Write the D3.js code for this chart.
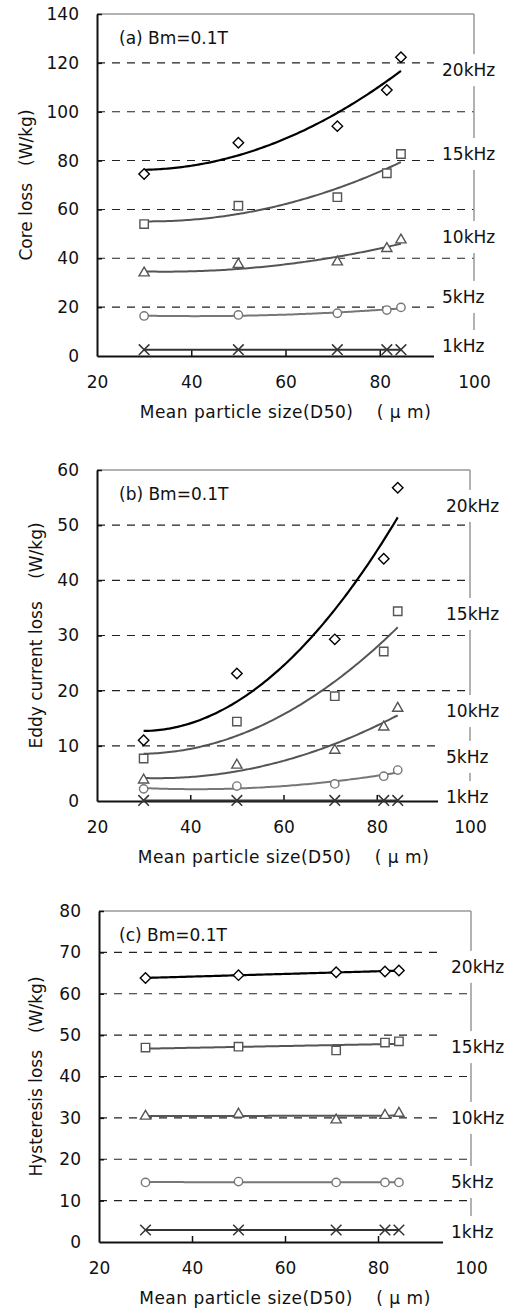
<!DOCTYPE html>
<html>
<head>
<meta charset="utf-8">
<script src="https://cdn.jsdelivr.net/npm/d3@7"></script>
<style>
  body { margin: 0; background: #fff; }
  svg { display: block; }
  text { font-family: "DejaVu Sans", "Noto Sans CJK JP", sans-serif; fill: #111; }
</style>
</head>
<body>
<div id="chart"></div>
<script>
// mean particle size D50 (um)
const sizes = [30, 50, 71, 81.5, 84.5];
const freqLabels = ["20kHz", "15kHz", "10kHz", "5kHz", "1kHz"];
const xTicks = [20, 40, 60, 80, 100];

// (a) core loss W/kg
const core20 = [74.5, 87.3, 94.1, 108.9, 122.3];
const core15 = [54.0, 61.5, 65.0, 74.8, 82.7];
const core10 = [34.0, 37.5, 38.5, 44.0, 47.5];
const core5 = [16.4, 16.8, 17.5, 18.8, 19.9];
const core1 = [2.6, 2.6, 2.6, 2.6, 2.6];
const coreTicks = [0, 20, 40, 60, 80, 100, 120, 140];

// (b) eddy current loss W/kg
const eddy20 = [11.0, 23.1, 29.3, 43.9, 56.8];
const eddy15 = [7.7, 14.4, 19.0, 27.1, 34.4];
const eddy10 = [3.8, 6.5, 9.2, 13.4, 16.8];
const eddy5 = [2.2, 2.7, 3.1, 4.5, 5.6];
const eddy1 = [0.1, 0.1, 0.1, 0.1, 0.1];
const eddyTicks = [0, 10, 20, 30, 40, 50, 60];

// (c) hysteresis loss W/kg
const hyst20 = [63.8, 64.5, 65.2, 65.4, 65.6];
const hyst15 = [47.0, 47.2, 46.3, 48.2, 48.5];
const hyst10 = [30.4, 30.9, 29.5, 30.6, 31.1];
const hyst5 = [14.4, 14.6, 14.4, 14.4, 14.4];
const hyst1 = [2.9, 2.9, 2.9, 2.9, 2.9];
const hystTicks = [0, 10, 20, 30, 40, 50, 60, 70, 80];

const W = 512, H = 1310;
const FS = 17;

const panels = [
  { tag: "(a) Bm=0.1T", title: "Core loss\u3000(W/kg)", series: [core20, core15, core10, core5, core1],
    ticks: coreTicks, order: 2, left: 97, right: 474, top: 14, bottom: 356, titleX: 26, labelX: 442,
    labelAt: [117, 82.7, 48.7, 24.2, 4.1] },
  { tag: "(b) Bm=0.1T", title: "Eddy current loss\u3000 (W/kg)", series: [eddy20, eddy15, eddy10, eddy5, eddy1],
    ticks: eddyTicks, order: 2, left: 97, right: 470, top: 470, bottom: 801, titleX: 36, labelX: 446,
    labelAt: [53.5, 33.9, 16.3, 8.0, 0.7] },
  { tag: "(c) Bm=0.1T", title: "Hysteresis loss\u3000(W/kg)", series: [hyst20, hyst15, hyst10, hyst5, hyst1],
    ticks: hystTicks, order: 1, left: 99, right: 471, top: 911, bottom: 1242, titleX: 36, labelX: 451,
    labelAt: [66.5, 47.1, 30.0, 14.5, 2.4] }
];

const styles = [
  { symbol: d3.symbolDiamond2, size: 70, color: "#000", line: "#000", width: 2.2 },
  { symbol: d3.symbolSquare2, size: 90, color: "#555", line: "#555", width: 2 },
  { symbol: d3.symbolTriangle2, size: 75, color: "#555", line: "#555", width: 2 },
  { symbol: d3.symbolCircle, size: 55, color: "#777", line: "#777", width: 2 },
  { symbol: d3.symbolX, size: 75, color: "#333", line: "#333", width: 2 }
];

// least squares polynomial fit (Excel-style trendline)
function polyfit(xs, ys, order) {
  const n = order + 1;
  const A = d3.range(n).map(() => new Array(n + 1).fill(0));
  xs.forEach((x, k) => {
    for (let i = 0; i < n; i++) {
      for (let j = 0; j < n; j++) A[i][j] += Math.pow(x, i + j);
      A[i][n] += ys[k] * Math.pow(x, i);
    }
  });
  for (let i = 0; i < n; i++) {
    for (let r = i + 1; r < n; r++) {
      const f = A[r][i] / A[i][i];
      for (let c = i; c <= n; c++) A[r][c] -= f * A[i][c];
    }
  }
  const coef = new Array(n).fill(0);
  for (let i = n - 1; i >= 0; i--) {
    let s = A[i][n];
    for (let j = i + 1; j < n; j++) s -= A[i][j] * coef[j];
    coef[i] = s / A[i][i];
  }
  return x => coef.reduce((acc, c, i) => acc + c * Math.pow(x, i), 0);
}

const svg = d3.select("#chart").append("svg")
  .attr("width", W).attr("height", H);

panels.forEach(p => {
  const x = d3.scaleLinear().domain([20, 100]).range([p.left, p.right]);
  const yMax = d3.max(p.ticks);
  const y = d3.scaleLinear().domain([0, yMax]).range([p.bottom, p.top]);
  const g = svg.append("g");

  // dashed grid
  g.selectAll(".grid").data(p.ticks.filter(t => t > 0 && t < yMax)).enter()
    .append("line")
    .attr("x1", p.left).attr("x2", p.right)
    .attr("y1", d => y(d)).attr("y2", d => y(d))
    .attr("stroke", "#222").attr("stroke-width", 1.1)
    .attr("stroke-dasharray", "8,7");

  // frame
  g.append("line").attr("x1", p.left).attr("x2", p.right).attr("y1", p.top).attr("y2", p.top)
    .attr("stroke", "#999").attr("stroke-width", 1.5);
  g.append("line").attr("x1", p.right).attr("x2", p.right).attr("y1", p.top).attr("y2", p.bottom)
    .attr("stroke", "#999").attr("stroke-width", 1.5);

  const xAxis = d3.axisBottom(x).tickValues(xTicks).tickSize(-6).tickPadding(20).tickSizeOuter(0);
  const yAxis = d3.axisLeft(y).tickValues(p.ticks).tickSize(-5).tickPadding(18).tickSizeOuter(0);

  const gx = g.append("g").attr("transform", `translate(0,${p.bottom})`).call(xAxis);
  const gy = g.append("g").attr("transform", `translate(${p.left},0)`).call(yAxis);
  [gx, gy].forEach(a => {
    a.select(".domain").attr("stroke", "#111").attr("stroke-width", 2);
    a.selectAll(".tick line").attr("stroke", "#111").attr("stroke-width", 1.5);
    a.selectAll(".tick text").attr("font-size", FS).attr("fill", "#111")
      .attr("font-family", "\"DejaVu Sans\", sans-serif");
  });
  gx.selectAll(".tick").filter(d => d === 20 || d === 100).select("line").remove();
  gy.selectAll(".tick").filter(d => d === 0).select("line").remove();

  // trendlines
  const xs = d3.range(sizes[0], sizes[sizes.length - 1] + 0.01, 0.5);
  p.series.forEach((vals, i) => {
    const f = polyfit(sizes, vals, p.order);
    g.append("path")
      .datum(xs)
      .attr("d", d3.line().x(d => x(d)).y(d => y(f(d))))
      .attr("fill", "none")
      .attr("stroke", styles[i].line)
      .attr("stroke-width", styles[i].width);
  });

  // markers
  p.series.forEach((vals, i) => {
    const s = styles[i];
    g.selectAll(null).data(vals).enter()
      .append("path")
      .attr("transform", (d, k) => `translate(${x(sizes[k])},${y(d)})`)
      .attr("d", d3.symbol().type(s.symbol).size(s.size))
      .attr("fill", s.symbol === d3.symbolX ? "none" : "#fff")
      .attr("stroke", s.color)
      .attr("stroke-width", s.symbol === d3.symbolX ? 1.5 : 1.4);
  });

  // frequency labels on white boxes
  freqLabels.forEach((lab, i) => {
    const cy = y(p.labelAt[i]);
    g.append("rect")
      .attr("x", p.labelX - 8).attr("y", cy - 16)
      .attr("width", W - p.labelX + 8).attr("height", 32)
      .attr("fill", "#fff");
    g.append("text")
      .attr("x", p.labelX).attr("y", cy).attr("dy", "0.36em")
      .attr("font-size", FS)
      .text(lab);
  });

  // panel tag
  g.append("text")
    .attr("x", 119).attr("y", p.top + 24).attr("dy", "0.36em")
    .attr("font-size", FS)
    .text(p.tag);

  // axis titles
  g.append("text")
    .attr("x", (p.left + p.right) / 2).attr("y", p.bottom + 62)
    .attr("text-anchor", "middle")
    .attr("font-size", FS).attr("letter-spacing", 0.5)
    .text("Mean particle size(D50)\u3000 ( \u03bc m)");

  g.append("text")
    .attr("transform", `translate(${p.titleX},${(p.top + p.bottom) / 2}) rotate(-90)`)
    .attr("text-anchor", "middle").attr("dy", "0.36em")
    .attr("font-size", FS)
    .text(p.title);
});
</script>
</body>
</html>
